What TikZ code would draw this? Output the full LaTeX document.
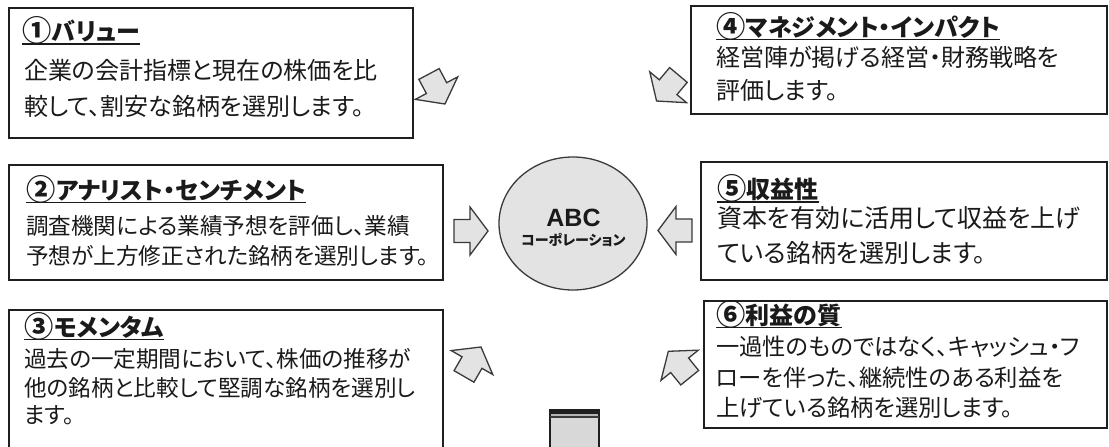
\documentclass[tikz,border=0pt]{standalone}
\usepackage{fontspec}
\setmainfont{Noto Sans CJK JP}
\newfontfamily\jpbody[RawFeature=+palt]{Noto Sans CJK JP}
\newfontfamily\jptitle[RawFeature=+palt]{Noto Sans CJK JP}
\newfontfamily\jpplain{Noto Sans CJK JP}
\newfontfamily\latsans{Liberation Sans}
\usetikzlibrary{shapes.geometric}
\definecolor{boxline}{HTML}{1F1F1F}
\definecolor{arrline}{HTML}{3A3A3A}
\definecolor{arrfill}{HTML}{E3E3E3}
\definecolor{txt}{HTML}{1A1A1A}
\definecolor{barlight}{HTML}{B4B4B4}
\newcommand{\cnum}[1]{\raisebox{-1.2pt}{\scalebox{1.22}{\jpplain #1}}\hspace{0.5pt}}
\tikzset{
  pics/blockarr/.style={code={
    \draw[blockarrow] (-17,-11.5) -- (-1,-11.5) -- (-1,-24) -- (17,0) -- (-1,24) -- (-1,11.5) -- (-17,11.5) -- cycle;}}
}
\begin{document}
\begin{tikzpicture}[x=1pt,y=-1pt,
  boxframe/.style={draw=boxline, line width=2pt, anchor=north west, inner sep=0pt},
  blockarrow/.style={draw=arrline, fill=arrfill, line width=1.3pt, line join=miter},
  ttl/.style={anchor=base west, inner sep=0pt, font=\jptitle\bfseries\fontsize{24}{24}\selectfont, text=txt},
  bdy/.style={anchor=base west, inner sep=0pt, font=\jpbody\fontsize{#1}{#1}\selectfont, text=txt},
  bdy/.default=24,
  uline/.style={line width=1.5pt, draw=txt}]
\useasboundingbox (0,0) rectangle (1109,447);
\fill[white] (0,0) rectangle (1109,447);
\clip (0,0) rectangle (1109,447);

% boxes
\node[boxframe, minimum width=404pt, minimum height=130pt] (b1) at (8,7) {};
\node[boxframe, minimum width=434pt, minimum height=115pt] (b2) at (8,164) {};
\node[boxframe, minimum width=434pt, minimum height=150pt] (b3) at (8,309) {};
\node[boxframe, minimum width=416pt, minimum height=108pt] (b4) at (690,5) {};
\node[boxframe, minimum width=406pt, minimum height=118pt] (b5) at (700,161) {};
\node[boxframe, minimum width=403pt, minimum height=127pt] (b6) at (703,300) {};

% box 1
\node[ttl] (t1) at (22,40.5) {\cnum{①}バリュー};
\draw[uline] ([yshift=-3.5pt]t1.base west) -- ([yshift=-3.5pt]t1.base east);
\node[bdy] (l11) at (24,79) {企業の会計指標と現在の株価を比};
\node[bdy] (l12) at (24,115) {較して、割安な銘柄を選別します。};

% box 2
\node[ttl] (t2) at (26,199) {\cnum{②}アナリスト・センチメント};
\draw[uline] ([yshift=-3.5pt]t2.base west) -- ([yshift=-3.5pt]t2.base east);
\node[bdy=22.6] (l21) at (26,234) {調査機関による業績予想を評価し、業績};
\node[bdy=22.6] (l22) at (26,264.5) {予想が上方修正された銘柄を選別します。};

% box 3
\node[ttl] (t3) at (24,336) {\cnum{③}モメンタム};
\draw[uline] ([yshift=-3.5pt]t3.base west) -- ([yshift=-3.5pt]t3.base east);
\node[bdy=22.6] (l31) at (24,367) {過去の一定期間において、株価の推移が};
\node[bdy=22.6] (l32) at (24,396) {他の銘柄と比較して堅調な銘柄を選別し};
\node[bdy=22.6] (l33) at (24,423.5) {ます。};

% box 4
\node[ttl] (t4) at (716,36) {\cnum{④}マネジメント・インパクト};
\draw[uline] ([yshift=-3.5pt]t4.base west) -- ([yshift=-3.5pt]t4.base east);
\node[bdy] (l41) at (716,66) {経営陣が掲げる経営・財務戦略を};
\node[bdy] (l42) at (716,99) {評価します。};

% box 5
\node[ttl] (t5) at (717,198.5) {\cnum{⑤}収益性};
\draw[uline] ([yshift=-3.5pt]t5.base west) -- ([yshift=-3.5pt]t5.base east);
\node[bdy=25] (l51) at (717,227) {資本を有効に活用して収益を上げ};
\node[bdy=25] (l52) at (717,262.5) {ている銘柄を選別します。};

% box 6
\node[ttl] (t6) at (716,324) {\cnum{⑥}利益の質};
\draw[uline] ([yshift=-3.5pt]t6.base west) -- ([yshift=-3.5pt]t6.base east);
\node[bdy=23.3] (l61) at (716,355.7) {一過性のものではなく、キャッシュ・フ};
\node[bdy=23.3] (l62) at (716,386.7) {ローを伴った、継続性のある利益を};
\node[bdy=23.3] (l63) at (716,416.7) {上げている銘柄を選別します。};

% center ellipse
\node[ellipse, draw=arrline, fill=arrfill, line width=1.3pt, minimum width=148pt, minimum height=133pt, inner sep=0pt] (corp) at (573,223.5) {};
\node[anchor=base, inner sep=0pt, font=\latsans\bfseries\fontsize{25}{25}\selectfont, text=txt] (abc) at (573.5,226) {ABC};
\node[anchor=base, inner sep=0pt, font=\jptitle\bfseries\fontsize{14}{14}\selectfont, text=txt] (corpname) at (573.5,245) {コーポレーション};

% block arrows
\pic[rotate=-62] at (437,89) {blockarr};
\pic[rotate=-130] at (667.5,88) {blockarr};
\pic at (471,231) {blockarr};
\pic[rotate=180] at (675,230.5) {blockarr};
\pic[rotate=60] at (472.5,361.7) {blockarr};
\pic[rotate=129] at (679,364.5) {blockarr};

% bottom gray object
\fill[arrfill!95!black] (550,410) rectangle (599,460);
\draw[boxline, line width=1.3pt] (550,460) -- (550,410) -- (599,410) -- (599,460);
\fill[boxline] (550,409.5) rectangle (599,413.5);
\fill[barlight] (550.7,413.5) rectangle (598.3,415.8);
\fill[arrline] (550,415.8) rectangle (599,418);
\end{tikzpicture}
\end{document}
